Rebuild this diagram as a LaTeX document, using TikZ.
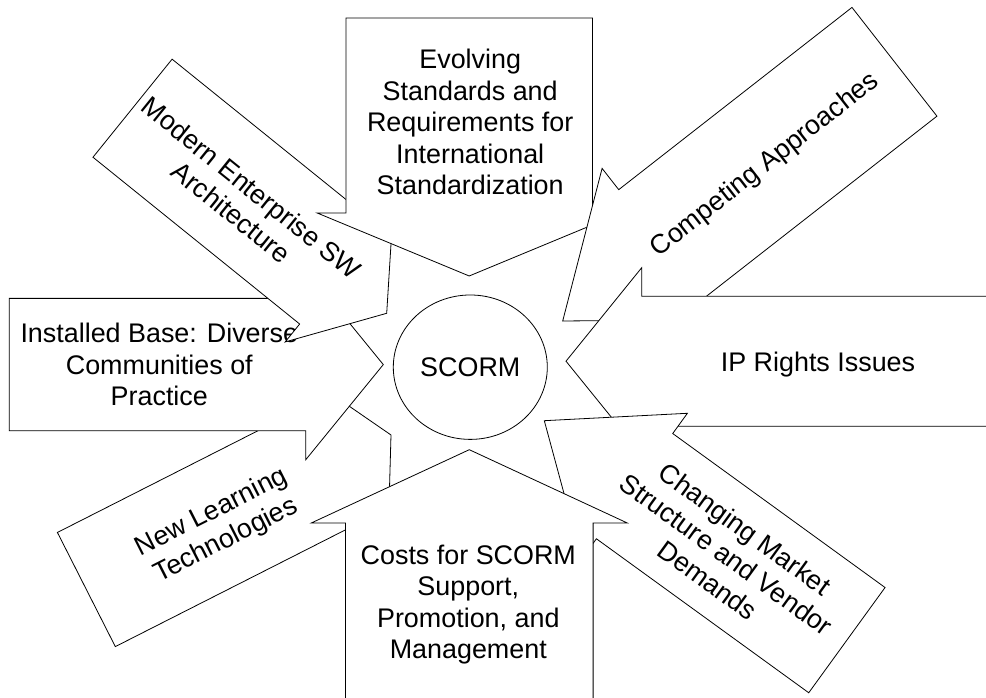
\documentclass[tikz,border=0pt]{standalone}
\usepackage{fontspec}
\setmainfont{Liberation Sans}
\usetikzlibrary{shapes.geometric}

\tikzset{
  blockarrow/.style={draw, fill=white, line width=0.8pt, line join=miter},
  arrowtext/.style={align=center, inner sep=0pt, font=\fontsize{26.9}{31.5}\selectfont}
}

% block arrow with its tip at the origin, pointing along +x
% #1 length, #2 head length, #3 head half width, #4 shaft half width
\newcommand{\arrowshape}[4]{%
  \draw[blockarrow] (0,0) -- (-#2,#3) -- (-#2,#4) -- (-#1,#4) -- (-#1,-#4) -- (-#2,-#4) -- (-#2,-#3) -- cycle;
}

\begin{document}
\begin{tikzpicture}[line cap=round,line join=round,x=1pt,y=1pt]

    \useasboundingbox (0,0) rectangle (986,698);
    \clip (0,0) rectangle (986,698);

    % new learning technologies
    \begin{scope}[shift={(391,263)}, rotate=26.9]
        \arrowshape{341.6}{50}{92}{64}
        \node[arrowtext, rotate=26.9] (newlearning) at (-195,-4) {New Learning\\Technologies};
    \end{scope}

    % installed base
    \begin{scope}[shift={(383.3,333.4)}]
        \arrowshape{374}{77.6}{95.2}{66.2}
        \node[arrowtext] (installed) at (-224,0) {Installed Base: Diverse\\Communities of\\Practice};
    \end{scope}

    % modern enterprise SW
    \begin{scope}[shift={(386.7,384.7)}, rotate=-38.9]
        \arrowshape{326.6}{61}{86}{63}
        \node[arrowtext, rotate=-38.9] (modern) at (-184,-3) {Modern Enterprise SW\\Architecture};
    \end{scope}

    % evolving standards
    \begin{scope}[shift={(469.2,422)}, rotate=-90]
        \arrowshape{258}{63}{152}{123.3}
        \node[arrowtext] (evolving) at (-154,1) {Evolving\\Standards and\\Requirements for\\International\\Standardization};
    \end{scope}

    % competing approaches
    \begin{scope}[shift={(562.7,377)}, rotate=-142]
        \arrowshape{421}{125}{96}{69}
        \node[arrowtext, rotate=38] (competing) at (-255.5,2) {Competing Approaches};
    \end{scope}

    % IP rights
    \begin{scope}[shift={(566,336.8)}, rotate=180]
        \arrowshape{460}{75.7}{93.5}{65}
        \node[arrowtext] (iprights) at (-252,3) {IP Rights Issues};
    \end{scope}

    % changing market
    \begin{scope}[shift={(544.3,277.3)}, rotate=144.05]
        \arrowshape{373.8}{111.5}{90}{65}
        \node[arrowtext, rotate=-35.95] (changing) at (-226,1.5) {Changing Market\\Structure and Vendor\\Demands};
    \end{scope}

    % costs for SCORM
    \begin{scope}[shift={(469.3,248.3)}, rotate=90]
        \arrowshape{320}{73.3}{158}{123.8}
        \node[arrowtext] (costs) at (-155,1) {Costs for SCORM\\Support,\\Promotion, and\\Management};
    \end{scope}

    \node[draw, ellipse, line width=0.8pt, fill=white, minimum width=154, minimum height=144.4, inner sep=0pt,
          font=\fontsize{26.9}{31.5}\selectfont] (scorm) at (470.3,330.8) {SCORM};

\end{tikzpicture}
\end{document}
